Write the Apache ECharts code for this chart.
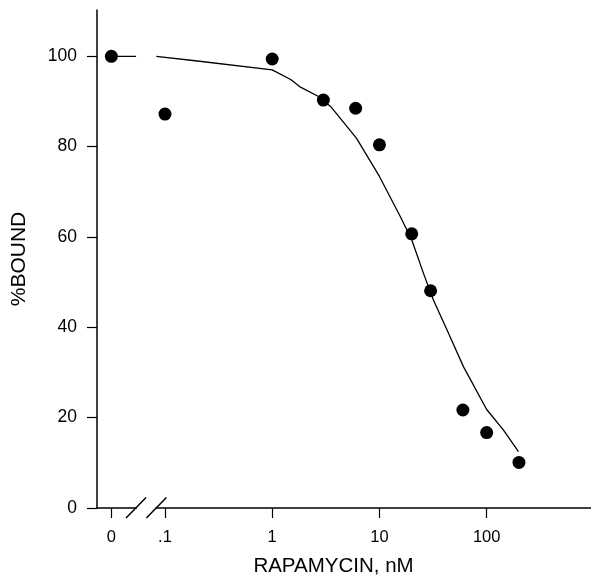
<!DOCTYPE html>
<html>
<head>
<meta charset="utf-8">
<script src="https://cdn.jsdelivr.net/npm/echarts@6/dist/echarts.min.js"></script>
<style>
  html, body { margin: 0; padding: 0; background: #fff; }
  #chart { width: 591px; height: 586px; }
</style>
</head>
<body>
<div id="chart"></div>
<script>
// measured points: rapamycin dose (nM) vs %bound
var dose  = [0, 0.1, 1, 3, 6, 10, 20, 30, 60, 100, 200];
var bound = [100, 87.2, 99.4, 90.3, 88.5, 80.4, 60.7, 48.1, 21.7, 16.7, 10.1];

// fitted curve as drawn in the figure
var fitDose  = [0.083, 0.21, 1, 1.5, 1.8, 2.7, 3.5, 6.1, 10, 15.6, 20, 25.7, 31.8, 42.5, 60.7, 100, 143, 198];
var fitBound = [100, 98.9, 97.0, 94.8, 93.3, 91.1, 88.9, 81.9, 73.4, 64.6, 59.4, 52.0, 46.1, 39.5, 31.3, 21.8, 17.3, 12.5];
var zeroFit = 100;

// ticks
var xTicks = [0, 0.1, 1, 10, 100];
var xTickLabels = ['0', '.1', '1', '10', '100'];
var yTicks = [0, 20, 40, 60, 80, 100];

// zero dose is drawn half a decade left of .1, across an axis break
var ZERO_POS = -1.5;
var BREAK_LO = -1.27, BREAK_HI = -1.08;

function pos(d) { return d === 0 ? ZERO_POS : Math.log10(d); }

var xTickPos = xTicks.map(pos);
var points = dose.map(function (d, i) { return [pos(d), bound[i]]; });
var fit = fitDose.map(function (d, i) { return [pos(d), fitBound[i]]; });
var stub = [[ZERO_POS, zeroFit], [BREAK_LO, zeroFit]];

var font = 'Liberation Sans, Arial, Helvetica, sans-serif';
var myChart = echarts.init(document.getElementById('chart'));

myChart.setOption({
    animation: false,
    grid: { left: 97, right: 0, top: 10, bottom: 78 },
    xAxis: {
        type: 'value',
        min: -1.634,
        max: 2.973,
        name: 'RAPAMYCIN, nM',
        nameLocation: 'middle',
        nameGap: 48,
        nameTextStyle: { fontFamily: font, fontSize: 20.5, color: '#000', padding: [0, 21, 0, 0] },
        splitLine: { show: false },
        axisLine: { onZero: false, lineStyle: { color: '#000', width: 1.5 } },
        axisTick: { customValues: xTickPos, length: 10, lineStyle: { color: '#000', width: 1.2 } },
        axisLabel: {
            customValues: xTickPos,
            margin: 21,
            fontFamily: font,
            fontSize: 16.5,
            color: '#000',
            formatter: function (v) {
                for (var i = 0; i < xTickPos.length; i++) {
                    if (Math.abs(xTickPos[i] - v) < 1e-6) return xTickLabels[i];
                }
                return '';
            }
        }
    },
    yAxis: {
        type: 'value',
        min: 0,
        max: 110.25,
        name: '%BOUND',
        nameLocation: 'middle',
        nameGap: 67,
        nameTextStyle: { fontFamily: font, fontSize: 21, color: '#000' },
        splitLine: { show: false },
        axisLine: { show: true, onZero: false, lineStyle: { color: '#000', width: 1.5 } },
        axisTick: { show: true, customValues: yTicks, length: 10, lineStyle: { color: '#000', width: 1.2 } },
        axisLabel: { customValues: yTicks, margin: 20, fontFamily: font, fontSize: 17.5, color: '#000' }
    },
    series: [
        {
            type: 'line',
            data: stub,
            showSymbol: false,
            lineStyle: { color: '#000', width: 1.3 },
            z: 2
        },
        {
            type: 'line',
            data: fit,
            showSymbol: false,
            smooth: false,
            lineStyle: { color: '#000', width: 1.3 },
            z: 2
        },
        {
            type: 'scatter',
            data: points,
            symbol: 'circle',
            symbolSize: 13,
            itemStyle: { color: '#000', opacity: 1 },
            z: 3
        }
    ]
});

// axis break marks: gap in the x axis line plus two slashes
var lo = myChart.convertToPixel({ gridIndex: 0 }, [BREAK_LO, 0]);
var hi = myChart.convertToPixel({ gridIndex: 0 }, [BREAK_HI, 0]);
function slash(p) {
    return {
        type: 'line',
        shape: { x1: p[0] - 10, y1: p[1] + 10, x2: p[0] + 10, y2: p[1] - 10.5 },
        style: { stroke: '#000', lineWidth: 1.5 },
        z: 10
    };
}
myChart.setOption({
    graphic: [
        {
            type: 'rect',
            shape: { x: lo[0] + 1, y: lo[1] - 2, width: hi[0] - lo[0] - 2, height: 4 },
            style: { fill: '#fff' },
            z: 9
        },
        slash(lo),
        slash(hi)
    ]
});
</script>
</body>
</html>
